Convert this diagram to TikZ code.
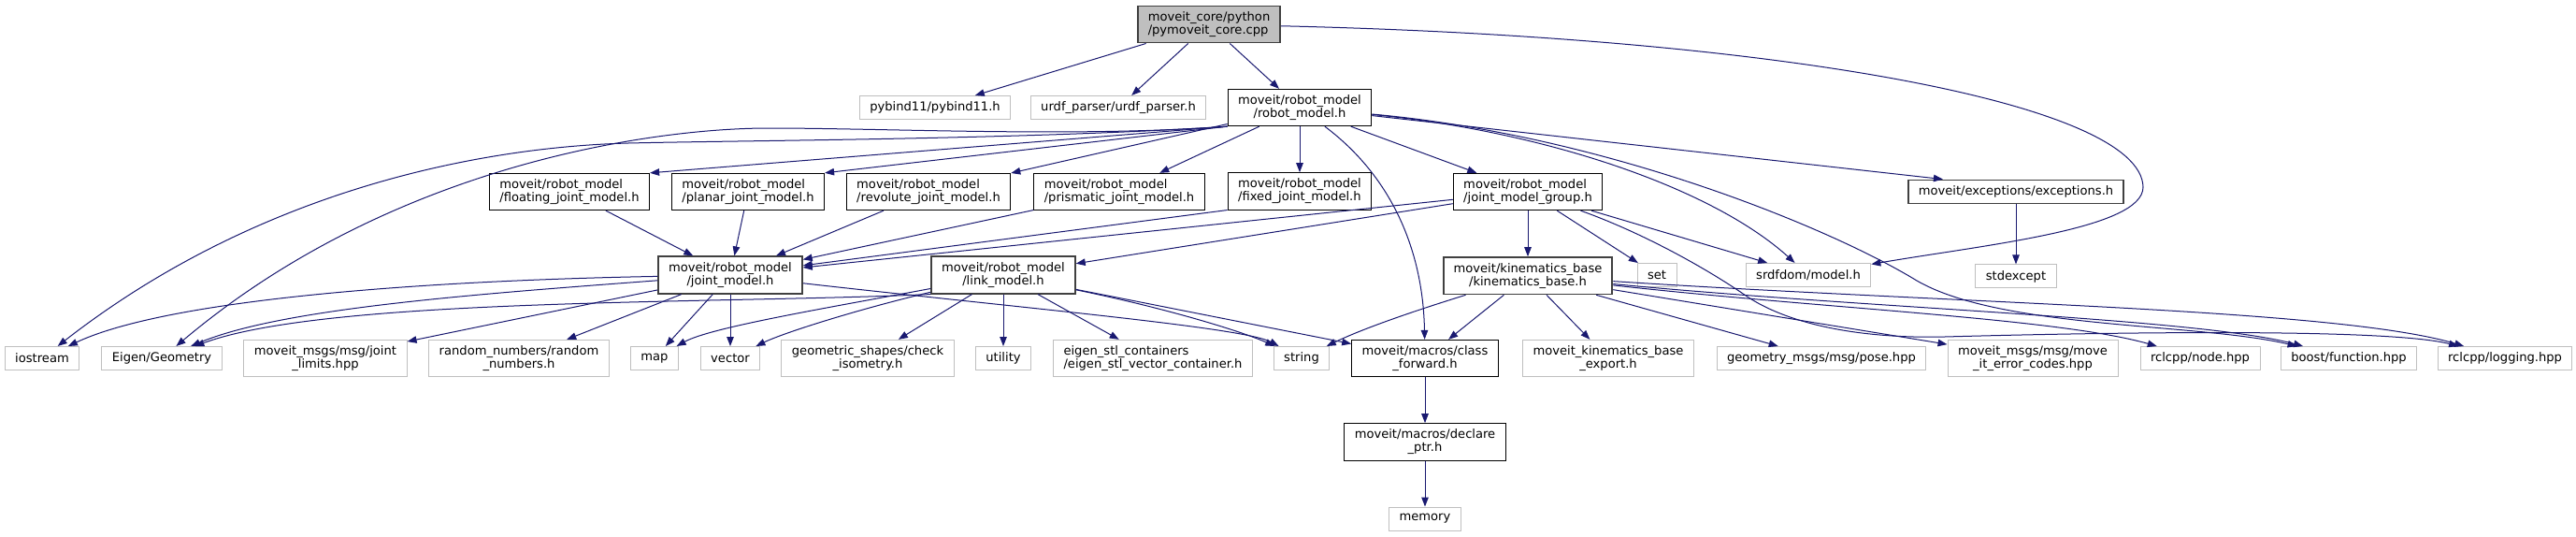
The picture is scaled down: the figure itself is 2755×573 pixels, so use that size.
\documentclass[tikz,border=0pt]{standalone}
\usepackage{fontspec}
\setmainfont{DejaVu Sans}
\usepackage{xcolor}
\usetikzlibrary{arrows.meta,positioning}
\definecolor{edgeblue}{HTML}{191970}
\definecolor{extgray}{HTML}{BFBFBF}
\definecolor{hubgray}{HTML}{404040}

\begin{document}
\begin{tikzpicture}[
    x=1pt, y=-1pt,
    node distance=49pt,
    box/.style={draw, line width=1pt, fill=white, minimum height=25pt, inner xsep=11pt, inner ysep=6pt, align=center, font=\fontsize{13.1}{14.3}\selectfont},
    hub/.style={box, draw=hubgray, line width=1.8pt},
    ext/.style={box, draw=extgray},
    rootbox/.style={box, draw=hubgray, line width=1.6pt, fill=extgray},
    arrow/.style={-{Triangle[length=10pt, width=7.5pt]}, draw=edgeblue, line width=1pt}
  ]
    \path[use as bounding box, fill=white] (0,0) rectangle (2755,573);

    \node[rootbox, align=left] (pymoveit) at (1293,26) {moveit\_core/python\\/pymoveit\_core.cpp};

    \node[ext] (pybind) at (1000,115) {pybind11/pybind11.h};
    \node[ext] (urdfparser) at (1196,115) {urdf\_parser/urdf\_parser.h};
    \node[box] (robotmodel) at (1390,115) {moveit/robot\_model\\/robot\_model.h};

    \node[box, align=left] (floating) at (609,205) {moveit/robot\_model\\/floating\_joint\_model.h};
    \node[box, align=left] (planar) at (800,205) {moveit/robot\_model\\/planar\_joint\_model.h};
    \node[box, align=left] (revolute) at (993,205) {moveit/robot\_model\\/revolute\_joint\_model.h};
    \node[box, align=left] (prismatic) at (1197,205) {moveit/robot\_model\\/prismatic\_joint\_model.h};
    \node[box, align=left, below=of robotmodel] (fixed) {moveit/robot\_model\\/fixed\_joint\_model.h};
    \node[box, align=left] (jointgroup) at (1634,205) {moveit/robot\_model\\/joint\_model\_group.h};
    \node[hub] (exceptions) at (2156,205) {moveit/exceptions/exceptions.h};

    \node[hub] (jointmodel) at (781,294) {moveit/robot\_model\\/joint\_model.h};
    \node[hub] (linkmodel) at (1073,294) {moveit/robot\_model\\/link\_model.h};
    \node[hub, below=of jointgroup] (kinbase) {moveit/kinematics\_base\\/kinematics\_base.h};
    \node[ext] (setinc) at (1772,294) {set};
    \node[ext] (srdfmodel) at (1934,294) {srdfdom/model.h};
    \node[ext, below=64pt of exceptions] (stdexcept) {stdexcept};

    \node[ext] (iostream) at (45,383) {iostream};
    \node[ext] (eigengeom) at (173,383) {Eigen/Geometry};
    \node[ext] (jointlimits) at (348,383) {moveit\_msgs/msg/joint\\\_limits.hpp};
    \node[ext] (randomnum) at (555,383) {random\_numbers/random\\\_numbers.h};
    \node[ext] (mapinc) at (700,383) {map};
    \node[ext] (vectorinc) at (781,383) {vector};
    \node[ext] (checkiso) at (928,383) {geometric\_shapes/check\\\_isometry.h};
    \node[ext] (utilityinc) at (1073,383) {utility};
    \node[ext, align=left] (eigenstl) at (1233,383) {eigen\_stl\_containers\\/eigen\_stl\_vector\_container.h};
    \node[ext] (stringinc) at (1392,383) {string};
    \node[box] (classfwd) at (1524,383) {moveit/macros/class\\\_forward.h};
    \node[ext] (kinexport) at (1720,383) {moveit\_kinematics\_base\\\_export.h};
    \node[ext] (posemsg) at (1948,383) {geometry\_msgs/msg/pose.hpp};
    \node[ext] (errorcodes) at (2174,383) {moveit\_msgs/msg/move\\\_it\_error\_codes.hpp};
    \node[ext] (rclnode) at (2353,383) {rclcpp/node.hpp};
    \node[ext] (boostfn) at (2512,383) {boost/function.hpp};
    \node[ext] (rcllog) at (2679,383) {rclcpp/logging.hpp};

    \node[box, below=of classfwd] (declareptr) {moveit/macros/declare\\\_ptr.h};
    \node[ext, below=of declareptr] (memoryinc) {memory};

    \draw[arrow] (pymoveit) -- (pybind);
    \draw[arrow] (pymoveit) -- (urdfparser);
    \draw[arrow] (pymoveit) -- (robotmodel);
    \draw[arrow] (pymoveit) .. controls (1900,40) and (2290,110) .. (2292,200) .. controls (2292,245) and (2120,262) .. (srdfmodel);

    \draw[arrow] (robotmodel.south west) -- (floating.north east);
    \draw[arrow] (robotmodel.south west) -- (planar.north east);
    \draw[arrow] (robotmodel) -- (revolute);
    \draw[arrow] (robotmodel) -- (prismatic);
    \draw[arrow] (robotmodel) -- (fixed);
    \draw[arrow] (robotmodel) -- (jointgroup);
    \draw[arrow] (robotmodel.south west) .. controls (1100,149) and (800,150) .. (672,153) .. controls (520,157) and (280,200) .. (iostream);
    \draw[arrow] (robotmodel.south west) .. controls (1150,147) and (950,137) .. (822,137) .. controls (700,137) and (420,175) .. (eigengeom);
    \draw[arrow] (robotmodel) .. controls (1490,190) and (1522,270) .. (classfwd);
    \draw[arrow] (robotmodel) .. controls (1650,140) and (1830,200) .. (srdfmodel);
    \draw[arrow] (robotmodel) -- ([xshift=38pt]exceptions.north west);
    \draw[arrow] (robotmodel) .. controls (1720,145) and (1960,245) .. (2050,300) .. controls (2140,352) and (2350,345) .. (boostfn);

    \draw[arrow] (floating) -- (jointmodel);
    \draw[arrow] (planar) -- (jointmodel);
    \draw[arrow] (revolute) -- (jointmodel);
    \draw[arrow] (prismatic) -- (jointmodel);
    \draw[arrow] (fixed.south west) -- (jointmodel);

    \draw[arrow] (jointgroup) -- (jointmodel);
    \draw[arrow] (jointgroup) -- (linkmodel);
    \draw[arrow] (jointgroup) -- (kinbase);
    \draw[arrow] (jointgroup) -- (setinc);
    \draw[arrow] (jointgroup) -- (srdfmodel);
    \draw[arrow] (jointgroup) .. controls (1760,250) and (1830,290) .. (1870,318) .. controls (1920,350) and (2000,362) .. (2080,360) .. controls (2300,354) and (2560,352) .. (rcllog);

    \draw[arrow] (exceptions) -- (stdexcept);

    \draw[arrow] (jointmodel) .. controls (450,300) and (180,320) .. (iostream);
    \draw[arrow] (jointmodel) .. controls (500,315) and (300,330) .. (eigengeom);
    \draw[arrow] (jointmodel) -- (jointlimits);
    \draw[arrow] (jointmodel) -- (randomnum);
    \draw[arrow] (jointmodel) -- (mapinc);
    \draw[arrow] (jointmodel) -- (vectorinc);
    \draw[arrow] (jointmodel) .. controls (1100,330) and (1330,350) .. (stringinc);

    \draw[arrow] (linkmodel.south west) .. controls (760,325) and (350,318) .. (eigengeom);
    \draw[arrow] (linkmodel) .. controls (880,330) and (760,350) .. (mapinc);
    \draw[arrow] (linkmodel) .. controls (920,330) and (840,355) .. (vectorinc);
    \draw[arrow] (linkmodel) -- (checkiso);
    \draw[arrow] (linkmodel) -- (utilityinc);
    \draw[arrow] (linkmodel) -- (eigenstl);
    \draw[arrow] (linkmodel) .. controls (1250,330) and (1330,355) .. (stringinc);
    \draw[arrow] (linkmodel) -- (classfwd);

    \draw[arrow] (kinbase) .. controls (1520,330) and (1460,350) .. (stringinc);
    \draw[arrow] (kinbase) -- (classfwd);
    \draw[arrow] (kinbase) -- (kinexport);
    \draw[arrow] (kinbase) -- (posemsg);
    \draw[arrow] (kinbase) -- (errorcodes);
    \draw[arrow] (kinbase) .. controls (1950,330) and (2200,340) .. (rclnode);
    \draw[arrow] (kinbase) .. controls (2000,330) and (2350,340) .. (boostfn);
    \draw[arrow] (kinbase) .. controls (2100,325) and (2500,330) .. (rcllog);

    \draw[arrow] (classfwd) -- (declareptr);
    \draw[arrow] (declareptr) -- (memoryinc);
  \end{tikzpicture}
\end{document}
